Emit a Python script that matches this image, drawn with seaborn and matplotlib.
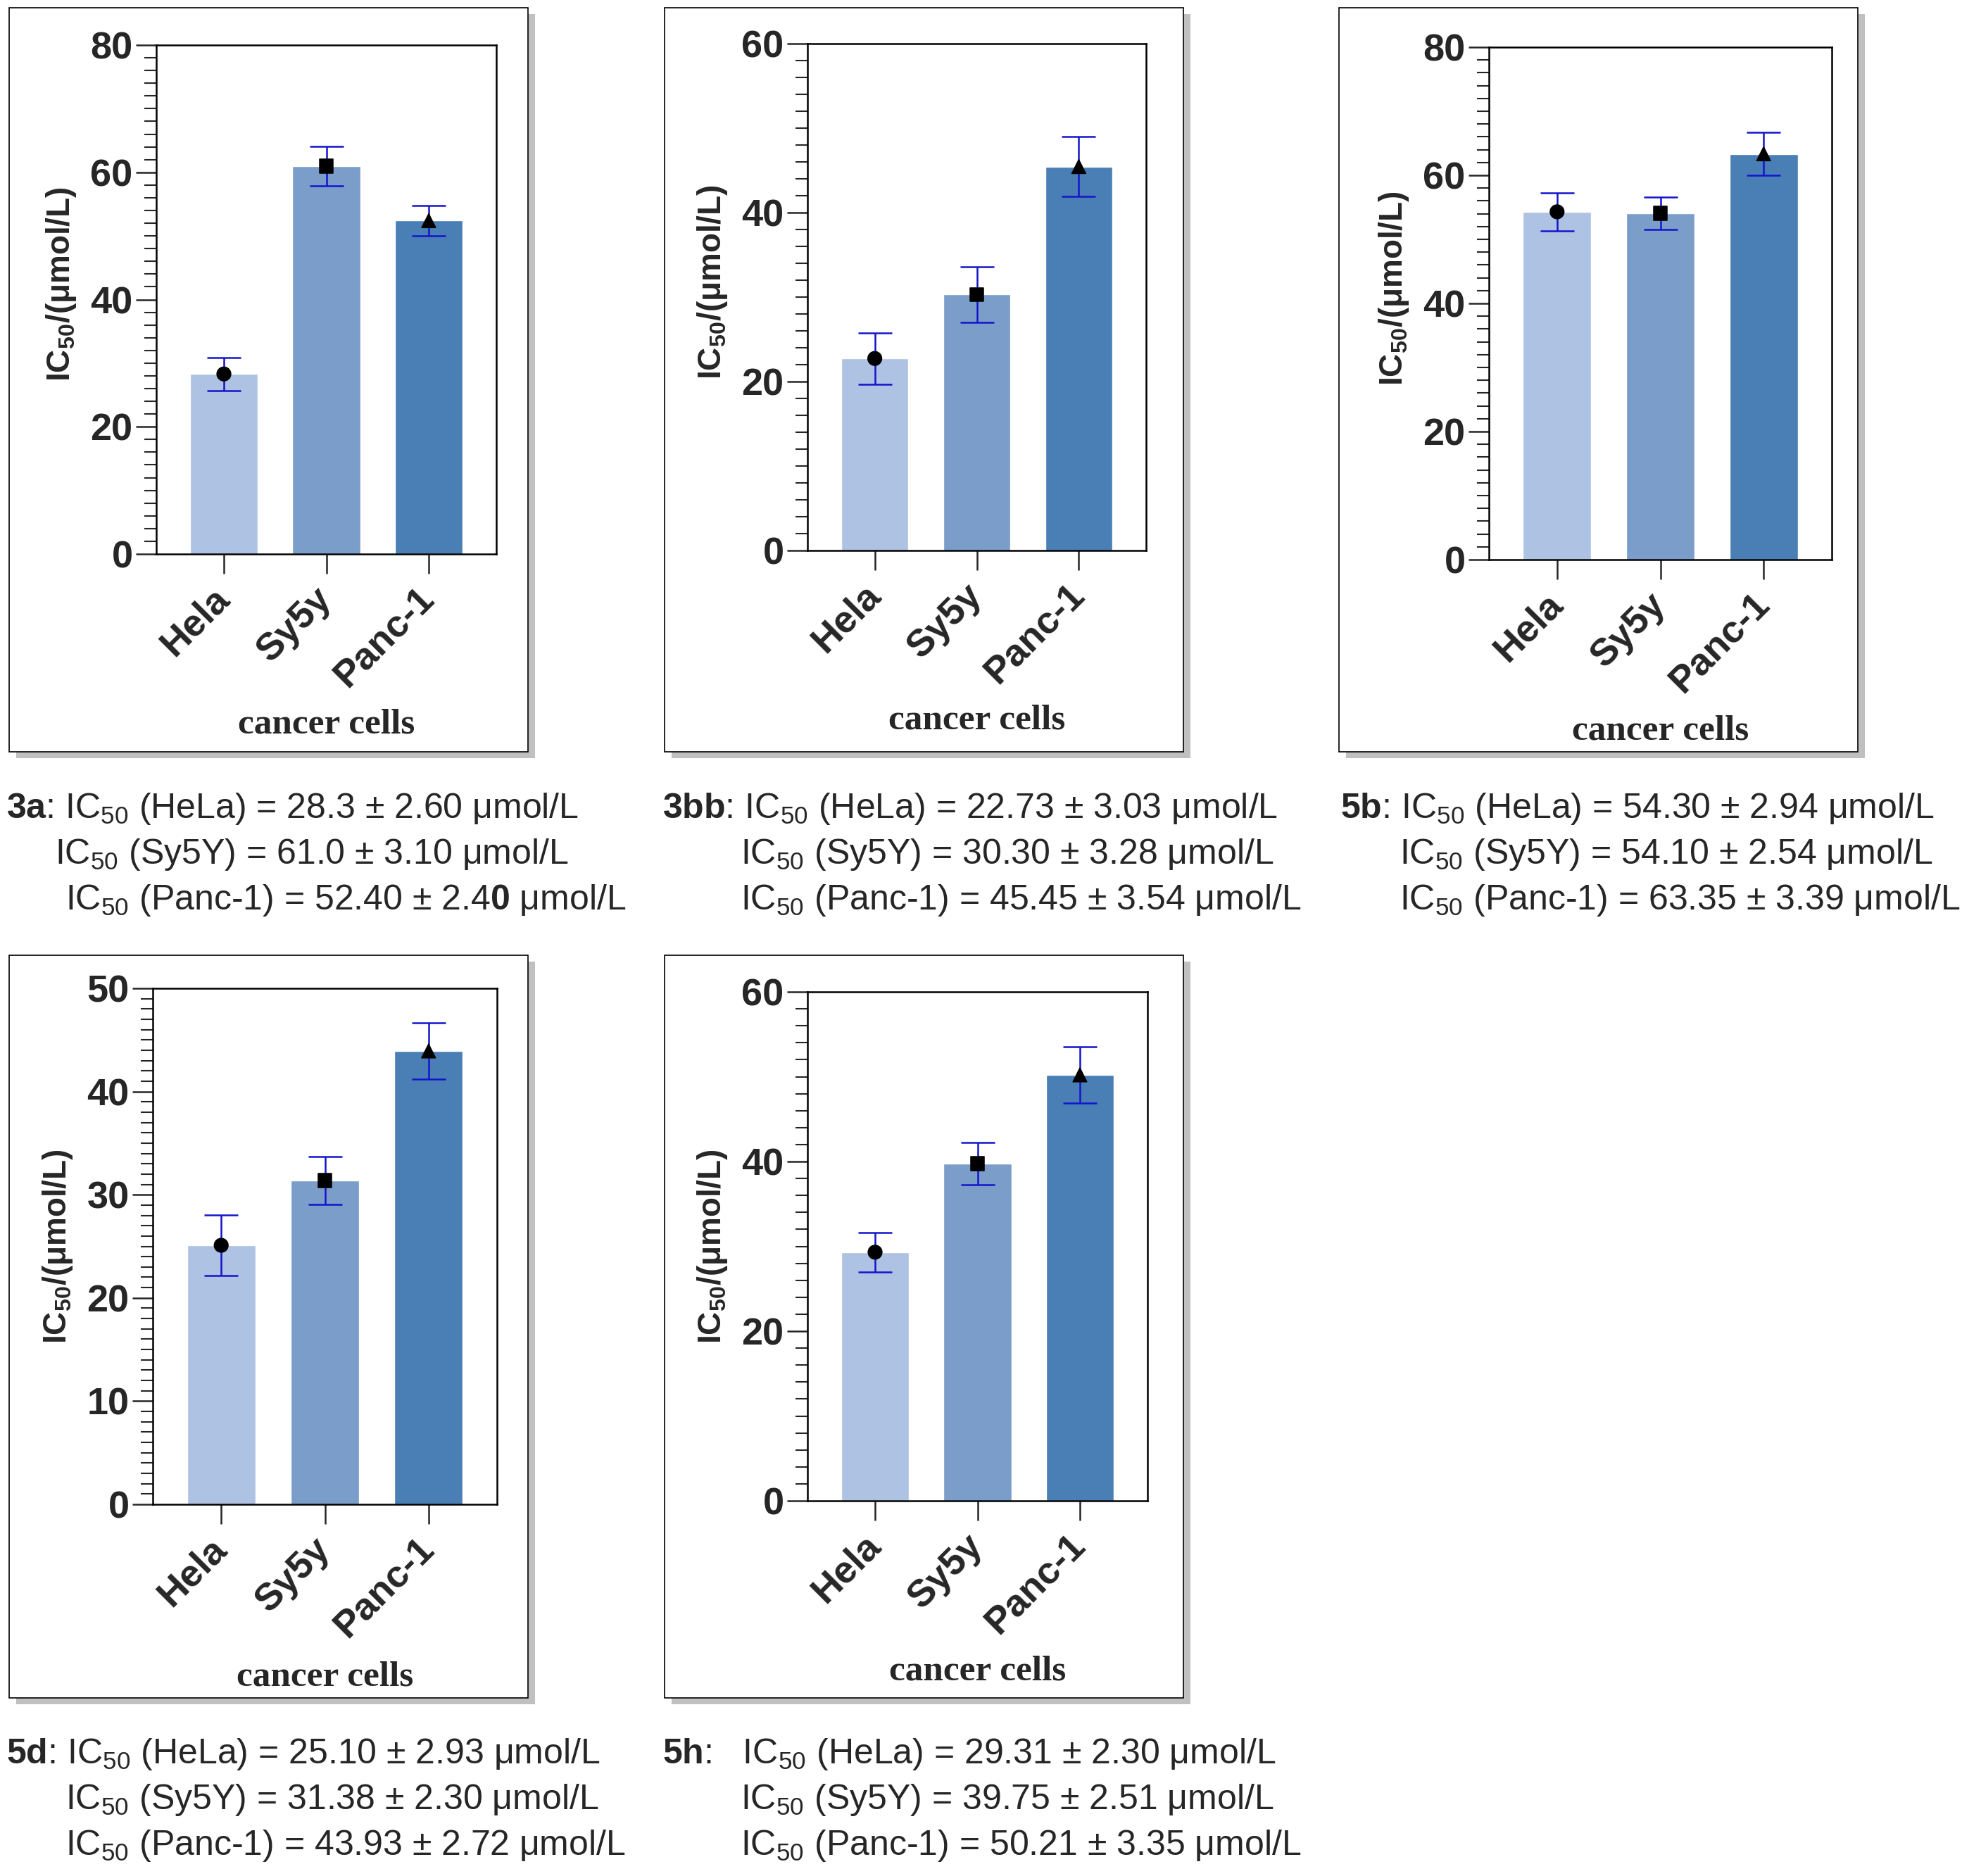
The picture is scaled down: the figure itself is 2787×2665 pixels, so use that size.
import matplotlib
matplotlib.use("Agg")
import numpy as np
import matplotlib.pyplot as plt
import seaborn as sns
from matplotlib.ticker import MultipleLocator
from matplotlib.patches import Rectangle

# data
cells = ["Hela", "Sy5y", "Panc-1"]
bar_colors = ["#AEC2E3", "#7B9DC9", "#4A7FB5"]
markers = ["o", "s", "^"]

ic50_3a = [28.3, 61.0, 52.40]
sd_3a = [2.60, 3.10, 2.40]
ic50_3bb = [22.73, 30.30, 45.45]
sd_3bb = [3.03, 3.28, 3.54]
ic50_5b = [54.30, 54.10, 63.35]
sd_5b = [2.94, 2.54, 3.39]
ic50_5d = [25.10, 31.38, 43.93]
sd_5d = [2.93, 2.30, 2.72]
ic50_5h = [29.31, 39.75, 50.21]
sd_5h = [2.30, 2.51, 3.35]

ymax = [80, 60, 80, 50, 60]
ymajor = [20, 20, 20, 10, 20]
yminor = [2, 2, 2, 1, 2]

lines_3a = [r"$\mathbf{3a}$: IC$_{50}$ (HeLa) = 28.3 ± 2.60 μmol/L",
            r"IC$_{50}$ (Sy5Y) = 61.0 ± 3.10 μmol/L",
            r"IC$_{50}$ (Panc-1) = 52.40 ± 2.4$\mathbf{0}$ μmol/L"]
lines_3bb = [r"$\mathbf{3bb}$: IC$_{50}$ (HeLa) = 22.73 ± 3.03 μmol/L",
             r"IC$_{50}$ (Sy5Y) = 30.30 ± 3.28 μmol/L",
             r"IC$_{50}$ (Panc-1) = 45.45 ± 3.54 μmol/L"]
lines_5b = [r"$\mathbf{5b}$: IC$_{50}$ (HeLa) = 54.30 ± 2.94 μmol/L",
            r"IC$_{50}$ (Sy5Y) = 54.10 ± 2.54 μmol/L",
            r"IC$_{50}$ (Panc-1) = 63.35 ± 3.39 μmol/L"]
lines_5d = [r"$\mathbf{5d}$: IC$_{50}$ (HeLa) = 25.10 ± 2.93 μmol/L",
            r"IC$_{50}$ (Sy5Y) = 31.38 ± 2.30 μmol/L",
            r"IC$_{50}$ (Panc-1) = 43.93 ± 2.72 μmol/L"]
lines_5h = [r"$\mathbf{5h}$:   IC$_{50}$ (HeLa) = 29.31 ± 2.30 μmol/L",
            r"IC$_{50}$ (Sy5Y) = 39.75 ± 2.51 μmol/L",
            r"IC$_{50}$ (Panc-1) = 50.21 ± 3.35 μmol/L"]

sns.set_style("ticks")
plt.rcParams["font.family"] = ["Liberation Sans", "DejaVu Sans"]
plt.rcParams["mathtext.fontset"] = "custom"
plt.rcParams["mathtext.default"] = "regular"
plt.rcParams["mathtext.rm"] = "Liberation Sans"
plt.rcParams["mathtext.bf"] = "Liberation Sans:bold"

W, H = 2787, 2665
fig = plt.figure(figsize=(W / 100, H / 100), dpi=100)
fig.patch.set_facecolor("white")


def frac(x0, x1, y0, y1):
    return [x0 / W, 1 - y1 / H, (x1 - x0) / W, (y1 - y0) / H]


# layout in pixels: axes box, panel frame, ylabel height
layout = [
    ((222, 705, 64, 787), (13, 750, 11, 1068), 0.53),
    ((1147, 1628, 62, 782), (944, 1681, 11, 1068), 0.53),
    ((2115, 2602, 67, 795), (1902, 2639, 11, 1068), 0.53),
    ((217, 706, 1404, 2137), (13, 750, 1357, 2412), 0.50),
    ((1147, 1630, 1409, 2132), (944, 1681, 1357, 2412), 0.50),
]
values = [ic50_3a, ic50_3bb, ic50_5b, ic50_5d, ic50_5h]
errors = [sd_3a, sd_3bb, sd_5b, sd_5d, sd_5h]

for i, (axbox, frame, ly) in enumerate(layout):
    fx0, fx1, fy0, fy1 = frame
    fig.patches.append(Rectangle((fx0 + 10, H - fy1 - 9), fx1 - fx0, fy1 - fy0,
                                 transform=None, facecolor="#C0C0C0",
                                 edgecolor="none", zorder=-3))
    fig.patches.append(Rectangle((fx0, H - fy1), fx1 - fx0, fy1 - fy0,
                                 transform=None, facecolor="white",
                                 edgecolor="black", linewidth=1.2, zorder=-2))

    ax = fig.add_axes(frac(*axbox))
    ax.set_facecolor("white")
    sns.barplot(x=cells, y=values[i], hue=cells, palette=bar_colors,
                saturation=1, width=0.66, legend=False, ax=ax, zorder=2)
    pos = np.arange(len(cells))
    ax.errorbar(pos, values[i], yerr=errors[i], fmt="none", ecolor="#1414CC",
                elinewidth=1.8, capsize=17, capthick=1.8, zorder=3)
    sns.scatterplot(x=pos, y=values[i], style=cells, markers=markers,
                    color="black", edgecolor="black", s=200, legend=False,
                    ax=ax, zorder=4)

    ax.set_xlim(-0.66, 2.66)
    ax.set_ylim(0, ymax[i])
    ax.yaxis.set_major_locator(MultipleLocator(ymajor[i]))
    ax.yaxis.set_minor_locator(MultipleLocator(yminor[i]))
    ax.set_xticks(pos)
    ax.set_xticklabels(cells, rotation=45, ha="right", va="center",
                       rotation_mode="anchor", fontsize=39, fontweight="bold")
    for lab in ax.get_yticklabels():
        lab.set_fontsize(39)
        lab.set_fontweight("bold")
    ax.tick_params(axis="y", which="major", length=21, width=1.8, pad=3)
    ax.tick_params(axis="y", which="minor", length=12, width=1.5)
    ax.tick_params(axis="x", which="major", length=20, width=1.8, pad=20)
    for sp in ax.spines.values():
        sp.set_visible(True)
        sp.set_linewidth(1.8)
        sp.set_color("black")

    ax.set_ylabel(r"IC$_{50}$/(μmol/L)", fontsize=33, fontweight="bold")
    ax.yaxis.label.set_va("center")
    ax.yaxis.set_label_coords(-135 / (axbox[1] - axbox[0]), ly)
    ax.set_xlabel("cancer cells", fontsize=37, fontweight="bold",
                  family=["Liberation Serif", "DejaVu Serif"])
    ax.xaxis.label.set_va("center")
    ax.xaxis.set_label_coords(0.5, -0.335)

# text blocks under each panel: (lines, x positions, baselines)
blocks = [
    (lines_3a, [9, 78, 93], [1162, 1227, 1292]),
    (lines_3bb, [941, 1052, 1052], [1162, 1227, 1292]),
    (lines_5b, [1904, 1988, 1988], [1162, 1227, 1292]),
    (lines_5d, [9, 93, 93], [2505, 2570, 2635]),
    (lines_5h, [941, 1052, 1052], [2505, 2570, 2635]),
]
for lines, xs, ys in blocks:
    for txt, x, y in zip(lines, xs, ys):
        fig.text(x / W, 1 - y / H, txt, fontsize=36, ha="left", va="baseline")

fig.savefig("out.png", dpi=100, facecolor="white")
